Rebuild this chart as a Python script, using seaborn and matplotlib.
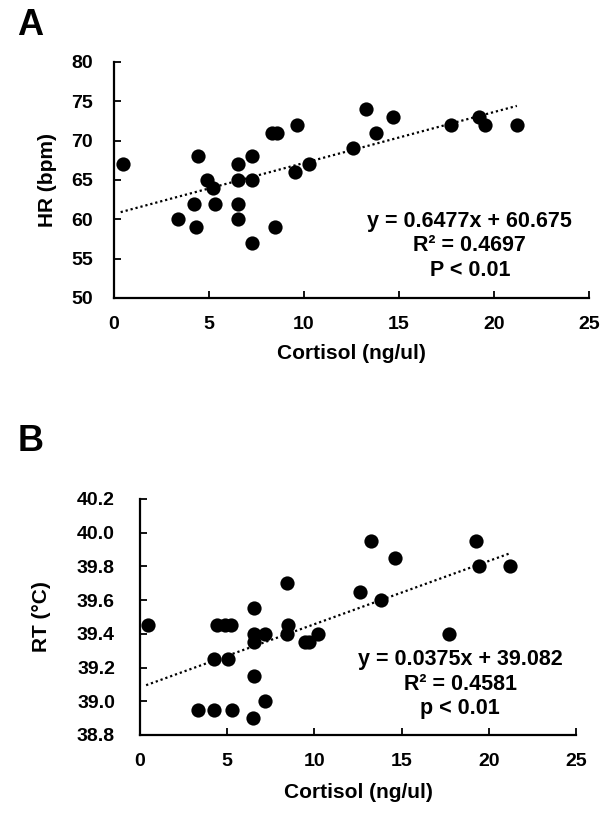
import numpy as np
import matplotlib
matplotlib.use("Agg")
import matplotlib.pyplot as plt
import seaborn as sns

# Panel A: cortisol vs heart rate
cortisol_a = [0.45, 4.4, 4.9, 5.2, 4.2, 5.3, 3.35, 4.3, 6.55, 6.55, 6.55, 6.55,
              7.25, 7.25, 7.25, 8.3, 8.6, 8.45, 9.65, 9.5, 10.25, 12.6, 13.25,
              13.8, 14.7, 17.75, 19.2, 19.5, 21.2]
hr = [67, 68, 65, 64, 62, 62, 60, 59, 67, 65, 62, 60,
      68, 65, 57, 71, 71, 59, 72, 66, 67, 69, 74,
      71, 73, 72, 73, 72, 72]
fit_a = (0.6477, 60.675)
text_a = ["y = 0.6477x + 60.675", "R² = 0.4697", "P < 0.01"]

# Panel B: cortisol vs rectal temperature
cortisol_b = [0.45, 4.4, 4.9, 5.2, 4.25, 5.05, 3.3, 4.25, 5.25, 6.55, 6.55, 6.55,
              6.55, 6.5, 7.15, 7.15, 8.4, 8.5, 8.4, 9.45, 9.7, 10.2, 12.6,
              13.25, 13.8, 14.6, 17.7, 19.25, 19.45, 21.2]
rt = [39.45, 39.45, 39.45, 39.45, 39.25, 39.25, 38.95, 38.95, 38.95, 39.55, 39.40, 39.35,
      39.15, 38.90, 39.40, 39.00, 39.70, 39.45, 39.40, 39.35, 39.35, 39.40, 39.65,
      39.95, 39.60, 39.85, 39.40, 39.95, 39.80, 39.80]
fit_b = (0.0375, 39.082)
text_b = ["y = 0.0375x + 39.082", "R² = 0.4581", "p < 0.01"]

sns.set_theme(style="ticks")
plt.rcParams['font.family'] = ['Liberation Sans', 'DejaVu Sans']
plt.rcParams['font.weight'] = 'bold'
plt.rcParams['text.color'] = 'black'
plt.rcParams['axes.labelcolor'] = 'black'
plt.rcParams['xtick.color'] = 'black'
plt.rcParams['ytick.color'] = 'black'

fig = plt.figure(figsize=(6.13, 8.14), dpi=100)
ax_a = fig.add_axes([0.186, 0.634, 0.775, 0.290])
ax_b = fig.add_axes([0.2284, 0.0971, 0.7113, 0.290])


def draw_panel(ax, x, y, fit, lines, ylim, yticks, ylabel, yfmt,
               text_x, text_ys, ylab_x, xlab_y, ypad):
    sns.scatterplot(x=x, y=y, ax=ax, s=105, color='black', edgecolor='black',
                    linewidth=0, zorder=3)
    xs = np.array([min(x) - 0.1, max(x)])
    sns.lineplot(x=xs, y=fit[0] * xs + fit[1], ax=ax, color='black',
                 linestyle=(0, (1, 1.3)), linewidth=1.6, zorder=2)
    ax.set_xlim(0, 25)
    ax.set_ylim(*ylim)
    ax.set_xticks([0, 5, 10, 15, 20, 25])
    ax.set_yticks(yticks)
    ax.set_yticklabels([yfmt.format(v) for v in yticks])
    ax.tick_params(direction='in', length=5, width=1.3, labelsize=14,
                   colors='black')
    ax.tick_params(axis='x', pad=13)
    ax.tick_params(axis='y', pad=ypad)
    for lab in ax.get_xticklabels() + ax.get_yticklabels():
        lab.set_fontweight('bold')
    ax.set_xlabel("Cortisol (ng/ul)", fontsize=15, fontweight='bold')
    ax.set_ylabel(ylabel, fontsize=15, fontweight='bold')
    ax.xaxis.label.set_va('center')
    ax.yaxis.label.set_va('center')
    ax.xaxis.set_label_coords(0.5, xlab_y)
    ax.yaxis.set_label_coords(ylab_x, 0.5)
    for side in ['top', 'right']:
        ax.spines[side].set_visible(False)
    for side in ['left', 'bottom']:
        ax.spines[side].set_linewidth(1.6)
        ax.spines[side].set_color('black')
    for line, ty in zip(lines, text_ys):
        ax.text(text_x, ty, line, transform=ax.transAxes, ha='center',
                va='center', fontsize=15.5, fontweight='bold')


draw_panel(ax_a, cortisol_a, hr, fit_a, text_a, (50, 80),
           [50, 55, 60, 65, 70, 75, 80], "HR (bpm)", "{:.0f}",
           0.749, [0.322, 0.222, 0.117], -0.141, -0.237, 15)
draw_panel(ax_b, cortisol_b, rt, fit_b, text_b, (38.8, 40.2),
           [38.8, 39.0, 39.2, 39.4, 39.6, 39.8, 40.0, 40.2], "RT (°C)", "{:.1f}",
           0.734, [0.318, 0.212, 0.114], -0.225, -0.242, 18)

fig.text(0.028, 0.969, "A", fontsize=26, fontweight='bold', va='center')
fig.text(0.028, 0.458, "B", fontsize=26, fontweight='bold', va='center')

plt.savefig('out.png', dpi=100)
plt.close()
